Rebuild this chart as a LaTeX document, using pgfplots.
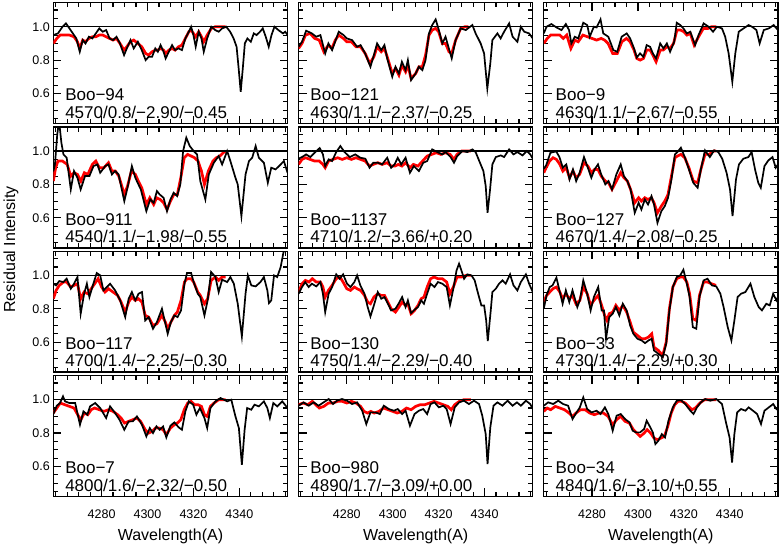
\documentclass[border=0pt]{standalone}
\usepackage{fontspec}
\setmainfont{Liberation Sans}
\usepackage{pgfplots}
\pgfplotsset{compat=1.18}
\usepgfplotslibrary{groupplots}
\usetikzlibrary{calc}

\newcommand{\lbl}{\fontsize{17bp}{20bp}\selectfont}
\newcommand{\lab}[2]{%
  \node[anchor=base west,font=\lbl,inner sep=0pt] at (rel axis cs:0.05,0.188) {#1};
  \node[anchor=base west,font=\lbl,inner sep=0pt] at (rel axis cs:0.05,0.045) {#2};}

\pgfplotsset{
  obs/.style={black, line width=1.7bp},
  syn/.style={red, line width=2.7bp},
  unity/.style={black, line width=1.3bp},
}

\begin{document}
\begin{tikzpicture}
\begin{groupplot}[
  group style={group size=3 by 4, horizontal sep=11bp, vertical sep=3.5bp,
               xticklabels at=edge bottom, yticklabels at=edge left},
  scale only axis, width=234bp, height=120.7bp,
  xmin=4259, xmax=4361, ymin=0.42, ymax=1.144,
  xtick={4280,4300,4320,4340}, minor xtick={4260,4265,...,4360},
  ytick={0.6,0.8,1.0}, minor ytick={0.45,0.5,...,1.15},
  tick align=inside, xtick pos=both, ytick pos=both,
  major tick length=8bp, minor tick length=4.5bp,
  major tick style={black, line width=1.2bp},
  minor tick style={black, line width=1.1bp},
  axis line style={line width=1.4bp},
  /pgf/number format/assume math mode=true,
  tick label style={font=\fontsize{12.5bp}{14bp}\selectfont},
  xticklabel style={/pgf/number format/1000 sep={}, anchor=base, yshift=-22bp},
  yticklabel style={/pgf/number format/.cd, fixed, fixed zerofill, precision=1},
  xlabel style={at={(axis description cs:0.5,0)}, anchor=base, yshift=-44bp,
                font=\fontsize{16bp}{18bp}\selectfont},
]
% ---- row 1 ----
\nextgroupplot
\addplot[syn] coordinates {(4259,0.90) (4260.5,0.93) (4262,0.95) (4264,0.95) (4266,0.95) (4268,0.94) (4269.5,0.91) (4270.5,0.87) (4271.8,0.92) (4273,0.91) (4274.5,0.93) (4276,0.94) (4277.5,0.94) (4279,0.95) (4280.5,0.95) (4282,0.94) (4283.5,0.93) (4285,0.92) (4286.5,0.93) (4288,0.90) (4289.8,0.86) (4291,0.88) (4292.6,0.91) (4294,0.92) (4295.8,0.90) (4297.5,0.88) (4299.2,0.84) (4300.5,0.83) (4302,0.85) (4303.4,0.86) (4304.5,0.86) (4305.7,0.87) (4307,0.86) (4307.9,0.84) (4309.3,0.86) (4310.7,0.87) (4312,0.86) (4313.5,0.88) (4315,0.89) (4316.5,0.93) (4318,0.97) (4319,0.98) (4320,0.96) (4321,0.94) (4322.3,0.97) (4323.5,0.94) (4324.5,0.91) (4326,0.95) (4327.8,0.99) (4329.5,1.00) (4331,1.00) (4333,1.00) (4334,1.00)};
\addplot[obs] coordinates {(4259,0.95) (4261,0.96) (4263,1.00) (4264.5,1.02) (4266,0.99) (4267.5,0.96) (4269,0.93) (4270.5,0.85) (4271.8,0.92) (4273,0.90) (4274.5,0.94) (4276,0.93) (4277.5,0.96) (4279,0.99) (4280.5,0.97) (4282,0.98) (4283.5,0.93) (4285,0.92) (4286.5,0.94) (4288,0.90) (4289.8,0.83) (4291,0.87) (4292.6,0.92) (4294,0.87) (4295.8,0.91) (4297.5,0.86) (4299.2,0.80) (4300.5,0.82) (4302,0.82) (4303.4,0.87) (4304.5,0.85) (4305.7,0.89) (4307,0.85) (4307.9,0.81) (4309.3,0.85) (4310.7,0.89) (4312,0.86) (4313.5,0.87) (4315,0.86) (4316.5,0.93) (4318,0.97) (4319,1.00) (4320,0.95) (4321,0.88) (4322.3,0.97) (4323.5,0.93) (4324.5,0.85) (4326,0.93) (4327.8,1.00) (4329.5,0.98) (4331,0.97) (4332.5,0.99) (4334.3,1.00) (4336,0.97) (4337.5,0.93) (4338.8,0.88) (4339.7,0.75) (4340.6,0.61) (4341.5,0.75) (4342.4,0.90) (4343.5,0.93) (4345,0.91) (4346.3,0.96) (4347.5,0.95) (4349,0.97) (4350.2,0.99) (4351.5,0.94) (4352.8,0.88) (4354,0.95) (4355.3,1.00) (4357,0.98) (4359,0.96) (4360,0.97) (4361,0.95)};
\addplot[unity] coordinates {(4259,1) (4361,1)};
\lab{Boo−94}{4570/0.8/−2.90/−0.45}

\nextgroupplot
\addplot[syn] coordinates {(4259,0.87) (4260.5,0.90) (4262,0.95) (4264,0.96) (4266,0.93) (4268,0.92) (4270,0.85) (4272,0.89) (4273.5,0.87) (4275,0.92) (4276.5,0.95) (4278.5,0.93) (4280,0.91) (4282,0.91) (4284,0.88) (4286,0.88) (4288,0.84) (4290,0.78) (4291.8,0.82) (4293.2,0.88) (4295,0.85) (4296.4,0.87) (4297.6,0.82) (4299.8,0.72) (4301.2,0.75) (4302.7,0.71) (4304,0.77) (4305.6,0.73) (4306.6,0.77) (4308,0.69) (4310,0.72) (4311.4,0.76) (4312.9,0.76) (4314.3,0.83) (4315.8,0.95) (4317.2,0.98) (4318.7,0.99) (4320,0.97) (4321.6,0.90) (4323,0.90) (4324.5,0.85) (4325.7,0.84) (4327.4,0.92) (4329.6,0.99) (4331.5,1.00) (4333,1.00)};
\addplot[obs] coordinates {(4259,0.88) (4260.5,0.91) (4262.3,0.976) (4264.8,0.96) (4266.7,0.94) (4268.5,0.95) (4270.6,0.84) (4272,0.90) (4273.6,0.86) (4276.5,0.97) (4278.6,0.95) (4280,0.93) (4282.3,0.92) (4284.5,0.88) (4286,0.89) (4288,0.84) (4290.3,0.76) (4291.8,0.83) (4293.2,0.90) (4295,0.86) (4296.4,0.89) (4297.6,0.81) (4299.8,0.70) (4301.2,0.76) (4302.7,0.72) (4304,0.79) (4305.6,0.74) (4306.6,0.80) (4308,0.68) (4310,0.72) (4311.4,0.76) (4312.9,0.74) (4314.3,0.80) (4315.8,0.96) (4317.2,1.01) (4318.7,1.044) (4320.1,0.98) (4321.6,0.90) (4323,0.94) (4325.7,0.81) (4327.4,0.92) (4329.6,0.99) (4331.8,0.98) (4334.7,1.01) (4336.1,0.96) (4338.3,0.90) (4339.8,0.84) (4341.2,0.63) (4342.5,0.78) (4343.4,0.92) (4345.6,0.96) (4347,0.93) (4348.5,0.97) (4350.7,1.02) (4352.2,0.94) (4354.3,0.91) (4355.8,1.00) (4357.3,0.97) (4359.4,0.96) (4361,0.93)};
\addplot[unity] coordinates {(4259,1) (4361,1)};
\lab{Boo−121}{4630/1.1/−2.37/−0.25}

\nextgroupplot
\addplot[syn] coordinates {(4259,0.90) (4260.5,0.93) (4262,0.95) (4264,0.95) (4266,0.95) (4267.5,0.93) (4269,0.95) (4270.8,0.87) (4272.5,0.92) (4274,0.91) (4276,0.95) (4278,0.94) (4280,0.93) (4282,0.92) (4284,0.93) (4285.5,0.92) (4287,0.90) (4289,0.84) (4291,0.84) (4293,0.91) (4295,0.93) (4296.6,0.91) (4298.3,0.86) (4299.5,0.81) (4301,0.80) (4302.4,0.81) (4303.8,0.86) (4305.3,0.86) (4306.5,0.83) (4307.9,0.79) (4309.7,0.86) (4311,0.86) (4312.6,0.88) (4314,0.87) (4315.5,0.90) (4317,0.98) (4318.5,0.98) (4320,0.97) (4321.3,0.95) (4322.8,0.96) (4324.5,0.89) (4326.4,0.94) (4328.5,0.99) (4330.5,0.99) (4332,1.00) (4334,1.00)};
\addplot[obs] coordinates {(4259,0.96) (4260.2,1.00) (4262.3,1.016) (4264.5,0.996) (4266.7,0.98) (4268.6,1.016) (4270,0.98) (4271,0.90) (4272.5,0.94) (4274,0.93) (4276.2,1.024) (4277.9,1.01) (4279,0.94) (4280.8,1.00) (4282,0.996) (4283.7,1.044) (4284.9,0.96) (4287.1,0.94) (4289.3,0.86) (4291,0.85) (4292.9,0.94) (4295.1,0.96) (4296.6,0.93) (4298.3,0.87) (4299.5,0.816) (4300.9,0.84) (4302.4,0.82) (4303.8,0.89) (4305.3,0.88) (4306.5,0.84) (4307.9,0.81) (4309.7,0.90) (4311.1,0.87) (4312.6,0.90) (4314,0.85) (4315.8,0.91) (4316.9,1.024) (4318.4,1.01) (4319.8,0.99) (4321.3,0.96) (4322.8,0.97) (4324.9,0.89) (4326.4,0.95) (4328.6,1.02) (4330.8,1.00) (4332.7,0.97) (4334.4,1.00) (4336.6,0.99) (4338,0.94) (4339.5,0.84) (4341.1,0.67) (4342.4,0.84) (4343.9,0.97) (4346,0.99) (4348.2,1.01) (4349.7,1.00) (4351.6,0.98) (4353,0.90) (4354.8,0.98) (4357,0.99) (4359.1,1.01) (4361,0.98)};
\addplot[unity] coordinates {(4259,1) (4361,1)};
\lab{Boo−9}{4630/1.1/−2.67/−0.55}

% ---- row 2 ----
\nextgroupplot
\addplot[syn] coordinates {(4259,0.82) (4260,0.90) (4261,0.94) (4263,0.94) (4265,0.92) (4266.6,0.85) (4268,0.87) (4269.5,0.86) (4271,0.82) (4272.5,0.87) (4274,0.86) (4276,0.92) (4277.5,0.94) (4279,0.90) (4281,0.90) (4283,0.93) (4284.5,0.88) (4286,0.88) (4287.5,0.85) (4289.9,0.74) (4291.3,0.79) (4293,0.88) (4294.7,0.86) (4296,0.82) (4297.5,0.78) (4299.5,0.68) (4301,0.72) (4302.7,0.68) (4304,0.72) (4305.5,0.71) (4307,0.69) (4308.5,0.65) (4310,0.70) (4311.5,0.74) (4313,0.74) (4314.5,0.84) (4316,0.96) (4317.5,0.98) (4319,0.97) (4320.5,0.96) (4322,0.94) (4323.5,0.88) (4324.8,0.80) (4326.5,0.88) (4328.5,0.94) (4330,0.96) (4331.5,0.97) (4333,0.99) (4334,1.00)};
\addplot[obs] coordinates {(4259,0.88) (4259.7,0.92) (4260.7,1.10) (4261.5,1.18) (4262.5,1.05) (4263.4,0.98) (4264.8,0.96) (4266.6,0.77) (4268,0.88) (4269.5,0.84) (4270.9,0.77) (4272.8,0.85) (4274.7,0.85) (4276.5,0.91) (4278.2,0.92) (4279.4,0.87) (4281.6,0.91) (4283,0.92) (4284.5,0.86) (4285.9,0.88) (4287.4,0.86) (4289.9,0.70) (4291.3,0.78) (4293.2,0.91) (4294.7,0.84) (4295.7,0.81) (4297.1,0.77) (4299.5,0.64) (4301.2,0.71) (4302.7,0.69) (4304.1,0.76) (4305.3,0.74) (4307,0.72) (4308.5,0.64) (4310,0.71) (4311.4,0.75) (4312.9,0.73) (4314.3,0.80) (4315.5,1.00) (4316.9,1.08) (4318.4,1.03) (4320.1,1.00) (4321.6,0.98) (4323,0.82) (4325.2,0.71) (4326.7,0.86) (4328.9,0.93) (4331,0.97) (4332.5,0.92) (4334.7,1.00) (4336.1,0.94) (4338.3,0.84) (4339.3,0.80) (4340.9,0.61) (4342.7,0.86) (4344.2,0.94) (4345.6,0.96) (4347.1,1.03) (4348.5,0.96) (4350.7,0.93) (4352.4,0.81) (4353.9,0.90) (4355.8,0.89) (4358,0.92) (4359.4,0.94) (4361,0.87)};
\addplot[unity] coordinates {(4259,1) (4361,1)};
\lab{Boo−911}{4540/1.1/−1.98/−0.55}

\nextgroupplot
\addplot[syn] coordinates {(4259,0.92) (4260.5,0.95) (4262,0.96) (4264,0.95) (4266,0.94) (4268,0.94) (4269.6,0.92) (4270.6,0.90) (4272,0.94) (4274,0.95) (4276,0.96) (4278,0.95) (4280,0.96) (4282,0.95) (4284,0.96) (4286,0.95) (4288,0.94) (4289.9,0.91) (4291.5,0.92) (4293.5,0.93) (4295.4,0.92) (4297.6,0.93) (4299.3,0.91) (4301,0.91) (4302.5,0.92) (4304,0.91) (4305.6,0.93) (4307.5,0.90) (4309,0.92) (4311,0.91) (4313,0.94) (4315,0.97) (4317,0.98) (4319,0.99) (4321,0.98) (4323,0.99) (4325,0.98) (4326.7,0.95) (4328,0.98) (4330,1.00) (4332,1.00) (4334,1.00)};
\addplot[obs] coordinates {(4259,0.954) (4260.5,0.964) (4262.3,0.98) (4264.1,0.964) (4266.3,0.994) (4268.2,1.018) (4269.6,0.98) (4270.6,0.91) (4272.1,0.95) (4273.6,0.94) (4275.4,0.994) (4277.2,1.03) (4279,0.994) (4281.3,0.964) (4283.7,0.98) (4285.9,0.96) (4288.1,0.954) (4289.9,0.90) (4291.5,0.93) (4293.5,0.93) (4295.4,0.92) (4297.6,0.96) (4299.3,0.90) (4300.8,0.92) (4302.2,0.96) (4303.7,0.92) (4305.6,0.96) (4307.5,0.87) (4309.2,0.91) (4311.4,0.88) (4313.3,0.93) (4315,0.94) (4317.2,1.01) (4319.4,0.994) (4321.6,0.98) (4323,0.994) (4325.2,0.964) (4326.7,0.93) (4328.1,0.97) (4330.3,1.00) (4332.5,0.994) (4334.7,1.01) (4336.1,0.994) (4338,0.93) (4339.5,0.88) (4340.5,0.79) (4341.3,0.63) (4342.4,0.77) (4343.4,0.92) (4344.9,0.964) (4347.1,0.974) (4348.5,0.964) (4350.7,1.01) (4352.6,0.98) (4354.3,0.994) (4356.5,0.974) (4358.4,1.00) (4359.9,0.98) (4361,0.954)};
\addplot[unity] coordinates {(4259,1) (4361,1)};
\lab{Boo−1137}{4710/1.2/−3.66/+0.20}

\nextgroupplot
\addplot[syn] coordinates {(4259,0.87) (4260,0.90) (4261.5,0.94) (4263,0.96) (4264.5,0.95) (4266,0.92) (4267.3,0.88) (4268.8,0.90) (4270.2,0.84) (4271.7,0.88) (4273.1,0.84) (4274.6,0.86) (4276.5,0.93) (4278.2,0.91) (4279.7,0.87) (4281.1,0.89) (4282.6,0.89) (4284,0.85) (4285.8,0.82) (4287.2,0.81) (4288.7,0.77) (4290.6,0.82) (4292.5,0.87) (4293.9,0.84) (4295.4,0.82) (4296.8,0.77) (4298.6,0.69) (4300.3,0.72) (4301.5,0.70) (4303,0.72) (4304.4,0.71) (4305.9,0.72) (4307,0.69) (4308.5,0.63) (4310.2,0.67) (4311.7,0.70) (4313.1,0.74) (4314.6,0.85) (4316.1,0.96) (4317.2,0.97) (4318.7,0.98) (4320.4,0.96) (4322.2,0.90) (4324.1,0.82) (4326,0.81) (4327.4,0.89) (4329.2,0.98) (4331,0.98) (4333,1.00) (4334,1.00)};
\addplot[obs] coordinates {(4259,0.894) (4260,0.914) (4261.9,0.99) (4264.4,0.998) (4265.8,0.964) (4267.3,0.90) (4268.8,0.92) (4270.2,0.83) (4271.7,0.89) (4273.1,0.82) (4274.6,0.87) (4276.5,0.964) (4278.2,0.90) (4279.7,0.84) (4281.1,0.89) (4282.6,0.92) (4284,0.86) (4285.8,0.80) (4287.2,0.82) (4288.7,0.77) (4290.6,0.86) (4292.5,0.92) (4293.9,0.85) (4295.4,0.82) (4296.8,0.77) (4298.6,0.63) (4300.3,0.69) (4301.5,0.65) (4303,0.71) (4304.4,0.68) (4305.9,0.73) (4307,0.68) (4308.5,0.57) (4310.2,0.64) (4311.7,0.67) (4313.1,0.72) (4314.6,0.83) (4316.1,0.98) (4317.2,0.994) (4318.7,1.02) (4320.4,0.964) (4322.2,0.89) (4324.1,0.81) (4326,0.78) (4327.4,0.89) (4329.2,1.004) (4331.3,0.964) (4333.2,1.004) (4335,0.994) (4336.7,0.954) (4338.6,0.87) (4340.1,0.77) (4341.2,0.61) (4342.7,0.83) (4344,0.92) (4345.9,0.954) (4348.1,0.964) (4349.5,0.994) (4351,0.89) (4352.4,0.81) (4353.5,0.78) (4355.1,0.91) (4356.8,0.944) (4358.6,0.964) (4360,0.90) (4361,0.92)};
\addplot[unity] coordinates {(4259,1) (4361,1)};
\lab{Boo−127}{4670/1.4/−2.08/−0.25}

% ---- row 3 ----
\nextgroupplot
\addplot[syn] coordinates {(4259,0.86) (4260.2,0.91) (4261.6,0.94) (4263.4,0.96) (4264.8,0.96) (4266.6,0.93) (4268,0.94) (4269.5,0.95) (4270.9,0.86) (4272.4,0.90) (4274,0.89) (4275.5,0.92) (4277,0.95) (4278.5,0.98) (4280,0.93) (4281.5,0.90) (4283,0.92) (4285,0.90) (4287,0.88) (4288.5,0.84) (4290.3,0.78) (4291.8,0.84) (4293.2,0.87) (4294.7,0.85) (4296.1,0.86) (4297.6,0.84) (4299,0.76) (4300.5,0.75) (4302.4,0.70) (4304.1,0.71) (4306.3,0.76) (4307.8,0.72) (4308.8,0.68) (4310.2,0.72) (4311.7,0.76) (4313,0.78) (4314.6,0.85) (4316.1,0.96) (4317.2,0.98) (4319,0.98) (4320.1,0.96) (4321.9,0.90) (4323,0.88) (4324.8,0.83) (4326.2,0.86) (4327.7,0.97) (4329.6,0.99) (4331,0.97) (4332.5,0.99) (4334,0.99)};
\addplot[obs] coordinates {(4259,0.95) (4260.2,0.94) (4261.6,0.966) (4263.4,0.96) (4264.8,0.98) (4266.6,0.92) (4268,0.95) (4269.5,0.99) (4270.9,0.77) (4272.4,0.89) (4273.6,0.95) (4274.7,0.87) (4276.2,0.94) (4277.9,1.014) (4279.4,1.00) (4280.8,0.91) (4282.3,0.93) (4283.7,0.95) (4285.9,0.91) (4288.1,0.85) (4290.3,0.75) (4291.8,0.86) (4293.2,0.90) (4294.7,0.85) (4296.1,0.89) (4297.6,0.90) (4299,0.73) (4300.5,0.75) (4302.4,0.68) (4304.1,0.72) (4306.3,0.80) (4307.8,0.71) (4308.8,0.65) (4310.2,0.72) (4311.7,0.76) (4313.1,0.75) (4314.6,0.79) (4316.1,0.95) (4317.2,1.014) (4319,1.014) (4320.1,0.96) (4321.9,0.89) (4323,0.87) (4324.8,0.76) (4326.2,0.85) (4327.7,1.02) (4329.6,0.99) (4331,0.90) (4332.5,0.974) (4334.7,0.96) (4336.1,0.99) (4337.6,0.95) (4339.3,0.83) (4341.1,0.634) (4342.7,0.89) (4343.7,1.00) (4345.2,0.94) (4347.1,0.934) (4349.2,0.96) (4350.7,0.99) (4352.2,0.91) (4352.9,0.834) (4353.9,0.85) (4355.1,1.00) (4356.5,0.99) (4358,1.05) (4359.1,1.13) (4360.2,1.19)};
\addplot[unity] coordinates {(4259,1) (4361,1)};
\lab{Boo−117}{4700/1.4/−2.25/−0.30}

\nextgroupplot
\addplot[syn] coordinates {(4259,0.90) (4260.5,0.95) (4262,0.97) (4263.5,0.96) (4265,0.98) (4266.7,0.96) (4268.5,0.96) (4269.6,0.93) (4270.6,0.87) (4272,0.91) (4273.6,0.94) (4275.4,0.98) (4277,0.99) (4278.4,0.96) (4280,0.92) (4281.6,0.91) (4283.3,0.93) (4284.5,0.92) (4286,0.91) (4287.7,0.88) (4289.1,0.84) (4290.3,0.83) (4291.8,0.87) (4293.5,0.89) (4295,0.88) (4296.4,0.88) (4297.9,0.84) (4299.3,0.80) (4301.2,0.78) (4302.7,0.81) (4304.1,0.84) (4305.6,0.82) (4306.6,0.83) (4308,0.77) (4309.5,0.79) (4311,0.82) (4312.4,0.86) (4313.6,0.87) (4315,0.93) (4316.5,0.98) (4318,0.99) (4319.7,0.98) (4321.6,0.98) (4323.5,0.96) (4324.9,0.89) (4326.4,0.93) (4328,0.99) (4330,0.99) (4332,1.00) (4334,1.00)};
\addplot[obs] coordinates {(4259,0.89) (4260.5,0.93) (4261.9,0.96) (4263.4,0.93) (4264.8,0.95) (4266.7,0.934) (4268.5,0.96) (4269.6,0.89) (4270.6,0.78) (4272.1,0.89) (4273.6,0.93) (4275.4,1.006) (4276.9,0.98) (4278.4,1.006) (4280.1,0.95) (4281.6,0.93) (4283.3,0.96) (4284.5,1.00) (4285.9,0.94) (4287.7,0.89) (4289.1,0.81) (4290.3,0.754) (4291.8,0.82) (4293.5,0.90) (4295,0.86) (4296.4,0.87) (4297.9,0.83) (4299.3,0.79) (4301.2,0.80) (4302.7,0.834) (4304.1,0.87) (4305.6,0.81) (4306.6,0.85) (4308,0.774) (4309.5,0.794) (4311,0.81) (4312.4,0.85) (4313.6,0.83) (4315,0.89) (4316.5,0.95) (4318.2,0.93) (4319.7,0.96) (4321.6,0.95) (4323.5,0.93) (4324.9,0.82) (4326.4,0.92) (4327.8,1.03) (4328.9,1.07) (4329.9,1.03) (4331.1,0.98) (4332.5,1.006) (4334.3,1.00) (4335.7,0.97) (4337.2,0.89) (4338.6,0.82) (4339.8,0.82) (4340.7,0.73) (4341.4,0.606) (4342.7,0.79) (4343.4,0.90) (4344.9,0.92) (4346.3,0.95) (4347.8,0.97) (4349.2,0.95) (4351.1,1.006) (4352.6,0.94) (4354.3,0.91) (4355.8,0.96) (4358,1.006) (4359.4,0.95) (4361,0.90)};
\addplot[unity] coordinates {(4259,1) (4361,1)};
\lab{Boo−130}{4750/1.4/−2.29/−0.40}

\nextgroupplot
\addplot[syn] coordinates {(4259,0.84) (4260.2,0.88) (4261.6,0.90) (4263,0.92) (4264.5,0.93) (4266,0.90) (4267.2,0.86) (4268.6,0.89) (4270.1,0.86) (4271.5,0.88) (4273,0.83) (4274.7,0.85) (4276.2,0.93) (4277.9,0.89) (4279.4,0.82) (4280.8,0.85) (4282.7,0.88) (4284.2,0.82) (4285.5,0.76) (4286.5,0.73) (4287.5,0.77) (4289,0.78) (4290.4,0.82) (4291.9,0.79) (4293.4,0.82) (4295.1,0.78) (4296.6,0.72) (4298,0.66) (4299.8,0.64) (4301.6,0.62) (4303,0.62) (4304.6,0.63) (4306,0.65) (4307,0.57) (4308.9,0.55) (4310.8,0.52) (4312.3,0.60) (4313.7,0.80) (4315.2,0.93) (4316.9,0.98) (4318.4,0.99) (4319.8,0.99) (4321.3,0.96) (4322.5,0.89) (4323.9,0.74) (4325.4,0.73) (4326.8,0.88) (4328.6,0.96) (4330.3,0.96) (4332,0.95) (4334,0.94)};
\addplot[obs] coordinates {(4259,0.80) (4260.2,0.88) (4261.6,0.93) (4262.8,0.94) (4264.5,0.986) (4266,0.90) (4267.2,0.83) (4268.6,0.91) (4270.1,0.84) (4271.5,0.91) (4273.6,0.81) (4274.7,0.85) (4276.2,0.97) (4277.9,0.89) (4279.4,0.79) (4280.8,0.87) (4282.7,0.93) (4284.2,0.79) (4285.2,0.79) (4286.1,0.62) (4287.5,0.75) (4289,0.77) (4290.4,0.81) (4291.9,0.76) (4293.4,0.83) (4295.1,0.79) (4296.6,0.70) (4298,0.65) (4299.8,0.62) (4301.6,0.61) (4303.1,0.594) (4304.6,0.61) (4306,0.62) (4307,0.55) (4308.9,0.53) (4310.8,0.51) (4312.3,0.59) (4313.7,0.79) (4315.2,0.93) (4316.9,0.99) (4318.4,1.00) (4319.8,1.034) (4321.3,0.95) (4322.5,0.87) (4323.9,0.69) (4325.4,0.68) (4326.8,0.87) (4328.6,0.97) (4330.3,0.98) (4332.2,0.94) (4334.1,0.934) (4335.9,0.89) (4337.3,0.81) (4339.1,0.69) (4340.7,0.61) (4342,0.73) (4343.4,0.87) (4344.9,0.89) (4346.8,0.90) (4349,0.95) (4350.7,0.87) (4352.6,0.81) (4354,0.79) (4355.9,0.83) (4357.4,0.82) (4358.9,0.89) (4360.3,0.85) (4361,0.87)};
\addplot[unity] coordinates {(4259,1) (4361,1)};
\lab{Boo−33}{4730/1.4/−2.29/+0.30}

% ---- row 4 ----
\nextgroupplot[xlabel={Wavelength(A)}]
\addplot[syn] coordinates {(4259,0.92) (4260.5,0.95) (4262,0.98) (4264,0.97) (4266,0.96) (4268,0.95) (4270,0.90) (4271,0.88) (4272.5,0.92) (4274,0.91) (4275.5,0.94) (4277,0.95) (4279,0.94) (4281,0.93) (4283,0.94) (4285,0.93) (4287,0.91) (4288.5,0.89) (4290,0.86) (4291.8,0.87) (4293.6,0.88) (4295.4,0.89) (4297,0.87) (4299,0.82) (4300.5,0.80) (4302,0.81) (4303.5,0.83) (4305,0.83) (4306.8,0.82) (4308.2,0.79) (4310,0.83) (4311.7,0.85) (4313,0.86) (4314.5,0.88) (4316,0.94) (4317.5,0.98) (4319,0.99) (4320.5,0.97) (4322,0.97) (4323.5,0.96) (4324.8,0.91) (4326,0.90) (4327.4,0.96) (4329,0.98) (4331,1.00) (4333,1.00) (4334,1.00)};
\addplot[obs] coordinates {(4259,0.914) (4260.5,0.964) (4261.9,0.98) (4263.2,1.02) (4264.1,0.99) (4266,0.98) (4268.5,0.98) (4270.6,0.85) (4272.1,0.93) (4273.8,0.91) (4275,0.96) (4277.2,0.98) (4279.4,0.95) (4282,0.89) (4283.7,0.96) (4285.9,0.92) (4287.8,0.88) (4289.9,0.82) (4291.8,0.87) (4293.6,0.87) (4295.4,0.90) (4297.6,0.85) (4299.5,0.78) (4301,0.83) (4302.4,0.80) (4303.9,0.84) (4305.3,0.82) (4306.8,0.84) (4308.2,0.774) (4310,0.844) (4311.7,0.864) (4313.6,0.834) (4315,0.82) (4316.5,0.93) (4318,0.99) (4319.9,0.97) (4321.3,0.91) (4322.8,0.95) (4324.8,0.89) (4326,0.83) (4327.4,0.95) (4329.6,0.99) (4331.8,1.01) (4334.7,0.99) (4336.5,1.00) (4338.3,0.90) (4339.8,0.83) (4341.1,0.61) (4342.3,0.82) (4343.4,0.95) (4345.2,0.94) (4346.6,0.97) (4348.5,0.96) (4350.7,0.99) (4352.2,0.95) (4353.3,0.89) (4354.8,0.98) (4356.5,0.96) (4358.7,0.99) (4361,0.95)};
\addplot[unity] coordinates {(4259,1) (4361,1)};
\lab{Boo−7}{4800/1.6/−2.32/−0.50}

\nextgroupplot[xlabel={Wavelength(A)}]
\addplot[syn] coordinates {(4259,0.97) (4261,0.98) (4263,0.97) (4265,0.99) (4266.5,0.97) (4268,0.95) (4270,0.96) (4272,0.98) (4274,0.98) (4276,0.99) (4278,0.99) (4280,0.98) (4282,0.99) (4284,0.98) (4286,0.96) (4287.5,0.93) (4289,0.92) (4290.5,0.93) (4292,0.92) (4294,0.93) (4296,0.95) (4298,0.94) (4300,0.93) (4302,0.92) (4304,0.93) (4306,0.95) (4308,0.94) (4310,0.96) (4312,0.97) (4314,0.97) (4316,0.98) (4318,0.99) (4320,0.98) (4322,0.97) (4324,0.96) (4325.5,0.94) (4327,0.97) (4329,0.99) (4331,1.00) (4333,1.00) (4334,1.00)};
\addplot[obs] coordinates {(4259,0.964) (4261.2,0.984) (4263.4,0.964) (4265.6,0.984) (4267.7,0.964) (4269.9,0.984) (4272.1,1.004) (4274,0.974) (4275.7,0.994) (4277.9,1.004) (4280.1,0.994) (4282.3,0.974) (4284.5,0.984) (4286.7,0.934) (4288.5,0.854) (4290.3,0.924) (4292.5,0.924) (4294.4,0.914) (4296.1,0.964) (4298.3,0.944) (4300.5,0.934) (4302.2,0.944) (4304.1,0.914) (4305.6,0.934) (4307.5,0.844) (4309.5,0.914) (4311.4,0.934) (4313.3,0.944) (4315,0.914) (4316.5,0.974) (4318.2,0.984) (4320.1,0.954) (4322,0.964) (4323.5,0.944) (4325.2,0.854) (4327,0.954) (4328.9,0.984) (4331,0.994) (4333.2,0.974) (4335.4,0.994) (4337.6,0.974) (4339,0.904) (4340.5,0.794) (4341.3,0.614) (4342.5,0.834) (4343.9,0.964) (4345.6,0.984) (4347.8,0.964) (4350,0.994) (4352.2,0.964) (4354.1,0.984) (4355.8,0.964) (4358,0.994) (4359.9,0.974) (4361,0.944)};
\addplot[unity] coordinates {(4259,1) (4361,1)};
\lab{Boo−980}{4890/1.7/−3.09/+0.00}

\nextgroupplot[xlabel={Wavelength(A)}]
\addplot[syn] coordinates {(4259,0.93) (4260.5,0.95) (4262,0.94) (4264,0.96) (4266,0.95) (4268,0.94) (4270,0.92) (4271.5,0.90) (4273,0.92) (4275,0.94) (4277,0.94) (4279,0.92) (4281,0.91) (4283,0.92) (4285,0.92) (4287,0.90) (4289,0.85) (4290.7,0.88) (4292.5,0.90) (4294.4,0.87) (4296.3,0.86) (4298,0.82) (4299.5,0.80) (4301,0.78) (4302.7,0.80) (4304,0.82) (4305.5,0.80) (4307,0.77) (4308.5,0.76) (4310,0.77) (4311.5,0.78) (4313,0.84) (4314.5,0.92) (4316,0.97) (4317.5,0.99) (4319,0.99) (4320.6,0.98) (4322,0.96) (4323.5,0.94) (4325,0.95) (4327,0.98) (4329,1.00) (4331,1.00) (4333,1.00) (4334,1.00)};
\addplot[obs] coordinates {(4259,0.964) (4260.9,0.984) (4263.1,0.974) (4265.3,0.994) (4267.4,0.974) (4269.6,0.964) (4271.5,0.884) (4273.3,0.924) (4274.7,0.954) (4276.2,1.014) (4277.9,0.944) (4279.8,0.924) (4282,0.934) (4283.7,0.914) (4285.6,0.954) (4287.1,0.914) (4289,0.814) (4290.7,0.904) (4292.5,0.914) (4294.4,0.884) (4296.3,0.864) (4297.7,0.814) (4299.2,0.804) (4300.9,0.804) (4302.7,0.824) (4303.8,0.874) (4305,0.844) (4306.5,0.804) (4307.6,0.734) (4308.9,0.754) (4310.4,0.794) (4311.8,0.774) (4313.3,0.874) (4315.2,0.954) (4316.9,0.994) (4318.7,0.998) (4320.6,0.974) (4322.8,0.934) (4324.2,0.914) (4325.7,0.954) (4327.4,0.984) (4329.3,1.004) (4331.5,0.994) (4334.1,1.004) (4336.6,0.974) (4338.5,0.854) (4339.9,0.774) (4341,0.624) (4342,0.794) (4343.2,0.924) (4344.9,0.944) (4346.8,0.934) (4348.2,0.954) (4350.1,0.934) (4351.9,0.914) (4353.6,0.854) (4355.1,0.934) (4357,0.954) (4358.9,0.974) (4360.3,0.944) (4361,0.954)};
\addplot[unity] coordinates {(4259,1) (4361,1)};
\lab{Boo−34}{4840/1.6/−3.10/+0.55}
\end{groupplot}

\node[rotate=90, font=\fontsize{16bp}{18bp}\selectfont]
  at ($($(group c1r1.north west)!0.5!(group c1r4.south west)$)+(-42.3bp,0)$) {Residual Intensity};

\pgfresetboundingbox
\path[use as bounding box] ($(group c1r1.north west)+(-53.3bp,2.7bp)$) rectangle ($(group c3r4.south east)+(2bp,-49bp)$);
\end{tikzpicture}
\end{document}
